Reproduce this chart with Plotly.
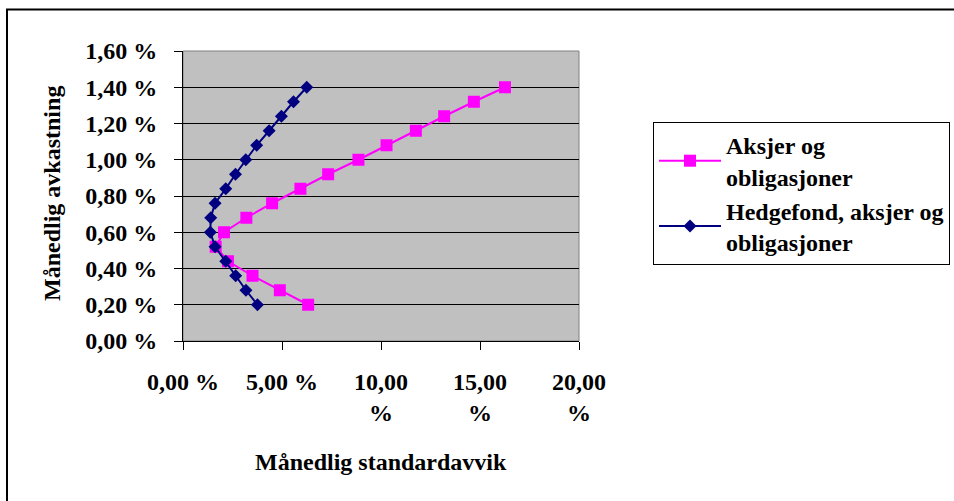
import plotly.graph_objects as go

# Data (values in %)
avkastning = [0.20, 0.28, 0.36, 0.44, 0.52, 0.60, 0.68, 0.76, 0.84, 0.92,
              1.00, 1.08, 1.16, 1.24, 1.32, 1.40]
std_aksjer_oblig = [6.32, 4.89, 3.51, 2.27, 1.65, 2.07, 3.20, 4.50, 5.93, 7.33,
                    8.86, 10.28, 11.76, 13.19, 14.69, 16.26]
std_hedge = [3.76, 3.18, 2.66, 2.16, 1.62, 1.38, 1.40, 1.62, 2.16, 2.65,
             3.17, 3.72, 4.35, 4.97, 5.58, 6.25]

series_names = ["Aksjer og<br>obligasjoner", "Hedgefond, aksjer og<br>obligasjoner"]

x_tickvals = [0, 5, 10, 15, 20]
x_ticktext = ["0,00 %", "5,00 %", "10,00<br>%", "15,00<br>%", "20,00<br>%"]
y_tickvals = [0.0, 0.2, 0.4, 0.6, 0.8, 1.0, 1.2, 1.4, 1.6]
y_ticktext = ["0,00 %", "0,20 %", "0,40 %", "0,60 %", "0,80 %", "1,00 %",
              "1,20 %", "1,40 %", "1,60 %"]

x_title = "Månedlig standardavvik"
y_title = "Månedlig avkastning"

FONT = "Liberation Serif"
FS = 24
W, H = 954, 501
L, R, T, B = 183, 375, 51, 160
pw, ph = W - L - R, H - T - B


def px_to_paper_x(px):
    return (px - L) / pw


def px_to_paper_y(py):
    return (H - B - py) / ph


fig = go.Figure()
fig.add_trace(go.Scatter(
    x=std_aksjer_oblig, y=avkastning, name=series_names[0],
    mode="lines+markers",
    line=dict(color="#FF00FF", width=2),
    marker=dict(symbol="square", size=12, color="#FF00FF"),
))
fig.add_trace(go.Scatter(
    x=std_hedge, y=avkastning, name=series_names[1],
    mode="lines+markers",
    line=dict(color="#000080", width=2),
    marker=dict(symbol="diamond", size=10, color="#000080"),
))

fig.update_layout(
    width=W, height=H, autosize=False,
    margin=dict(l=L, r=R, t=T, b=B, pad=0, autoexpand=False),
    paper_bgcolor="white",
    plot_bgcolor="#C0C0C0",
    font=dict(family=FONT, size=FS, color="black", weight="bold"),
    showlegend=True,
    legend=dict(
        x=px_to_paper_x(653), y=px_to_paper_y(122),
        xanchor="left", yanchor="top",
        bordercolor="black", borderwidth=1, bgcolor="white",
        font=dict(family=FONT, size=FS, color="black", weight="bold"),
        itemwidth=62,
        tracegroupgap=12,
    ),
    xaxis=dict(
        range=[0, 20], tickvals=x_tickvals, ticktext=x_ticktext,
        showgrid=False, zeroline=False,
        showline=True, linecolor="black", linewidth=1,
        ticks="outside", ticklen=8, tickcolor="black",
        ticklabelstandoff=11,
        tickfont=dict(family=FONT, size=FS, color="black", weight="bold"),
    ),
    yaxis=dict(
        range=[0, 1.6], tickvals=y_tickvals, ticktext=y_ticktext,
        showgrid=True, gridcolor="black", gridwidth=1, zeroline=False,
        showline=True, linecolor="black", linewidth=1,
        ticks="outside", ticklen=8, tickcolor="black",
        ticklabelstandoff=12,
        tickfont=dict(family=FONT, size=FS, color="black", weight="bold"),
    ),
    shapes=[
        # grey plot-area frame
        dict(type="rect", xref="paper", yref="paper", x0=0, x1=1, y0=0, y1=1,
             line=dict(color="#808080", width=1), layer="below"),
        # outer chart frame
        dict(type="rect", xref="paper", yref="paper",
             x0=px_to_paper_x(7), x1=px_to_paper_x(1000),
             y0=px_to_paper_y(560), y1=px_to_paper_y(9.5),
             line=dict(color="black", width=2)),
    ],
    annotations=[
        dict(text=x_title, xref="paper", yref="paper",
             x=0.5, y=px_to_paper_y(462), xanchor="center", yanchor="middle",
             showarrow=False, font=dict(family=FONT, size=FS, weight="bold")),
        dict(text=y_title, xref="paper", yref="paper", textangle=-90,
             x=px_to_paper_x(52), y=px_to_paper_y(194), xanchor="center", yanchor="middle",
             showarrow=False, font=dict(family=FONT, size=FS, weight="bold")),
    ],
)

fig.write_html("out.html")
